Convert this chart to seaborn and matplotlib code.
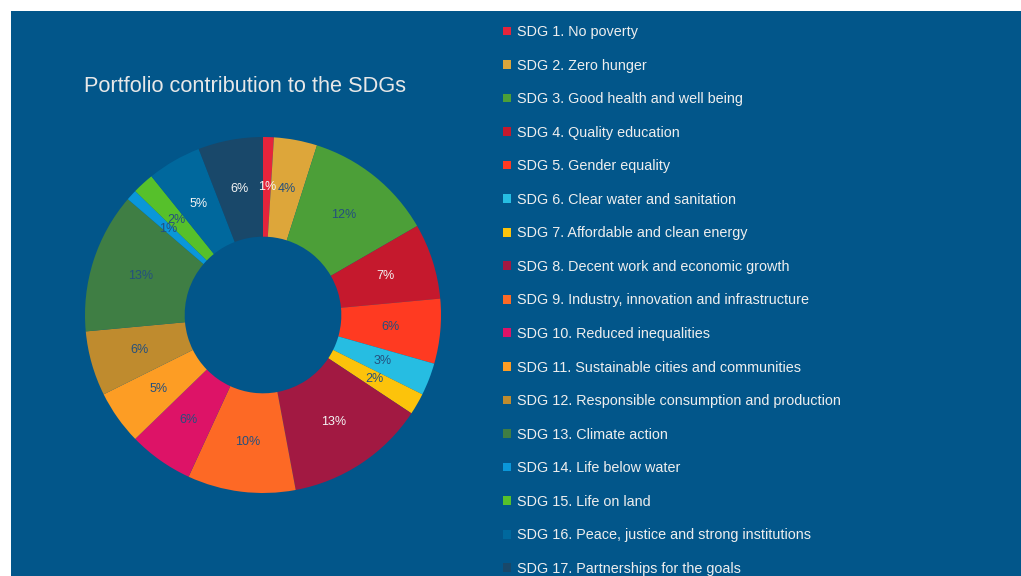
import matplotlib
matplotlib.use("Agg")
import matplotlib.pyplot as plt
from matplotlib.patches import Patch, Rectangle
import seaborn as sns

categories = [
    "SDG 1. No poverty",
    "SDG 2. Zero hunger",
    "SDG 3. Good health and well being",
    "SDG 4. Quality education",
    "SDG 5. Gender equality",
    "SDG 6. Clear water and sanitation",
    "SDG 7. Affordable and clean energy",
    "SDG 8. Decent work and economic growth",
    "SDG 9. Industry, innovation and infrastructure",
    "SDG 10. Reduced inequalities",
    "SDG 11. Sustainable cities and communities",
    "SDG 12. Responsible consumption and production",
    "SDG 13. Climate action",
    "SDG 14. Life below water",
    "SDG 15. Life on land",
    "SDG 16. Peace, justice and strong institutions",
    "SDG 17. Partnerships for the goals",
]
values = [1, 4, 12, 7, 6, 3, 2, 13, 10, 6, 5, 6, 13, 1, 2, 5, 6]
colors_hex = ["#E5243B", "#DDA63A", "#4C9F38", "#C5192D", "#FF3A21", "#26BDE2",
              "#FCC30B", "#A21942", "#FD6925", "#DD1367", "#FD9D24", "#BF8B2E",
              "#3F7E44", "#0A97D9", "#56C02B", "#00689D", "#19486A"]
white_labels = [True, False, False, True, False, False, False, True, False,
                False, False, False, False, False, False, True, True]
title = "Portfolio contribution to the SDGs"

sns.set_theme(style="white")
plt.rcParams['font.family'] = ['Liberation Sans', 'DejaVu Sans']

BG = "#02568a"
palette = sns.color_palette(colors_hex)

fig = plt.figure(figsize=(10.21, 5.76), dpi=100)
fig.patch.set_facecolor("white")
fig.patches.append(Rectangle((11 / 1021, 0), 1 - 11 / 1021, 1 - 11 / 576,
                             transform=fig.transFigure, facecolor=BG,
                             edgecolor="none", zorder=-5))

ax = fig.add_axes([85 / 1021, 83 / 576, 356 / 1021, 356 / 576])
ax.set_facecolor("none")
pct_labels = [f"{v}%" for v in values]
wedges, texts = ax.pie(values, colors=palette, startangle=90, counterclock=False,
                       labels=pct_labels, labeldistance=0.72,
                       wedgeprops=dict(width=0.56, linewidth=0),
                       textprops=dict(fontsize=9))
for t, w in zip(texts, white_labels):
    t.set_ha("center")
    t.set_va("center")
    t.set_color("#f4f4f4" if w else "#24507e")
ax.set_xlim(-1, 1)
ax.set_ylim(-1, 1)
ax.set_aspect("equal")
ax.axis("off")

fig.text(245 / 1021, 1 - 86 / 576, title, ha="center", va="center",
         fontsize=15.7, color="#e8e8e8")

handles = [Patch(facecolor=c, edgecolor="none") for c in palette]
leg = fig.legend(handles, categories, loc="upper left",
                 bbox_to_anchor=(503 / 1021, 1 - 25 / 576),
                 frameon=False, fontsize=10.35, labelspacing=1.36,
                 handlelength=0.56, handleheight=0.56, handletextpad=0.42,
                 borderaxespad=0, borderpad=0)
for t in leg.get_texts():
    t.set_color("#eeeeee")

fig.savefig("out.png", dpi=100, facecolor=fig.get_facecolor())
